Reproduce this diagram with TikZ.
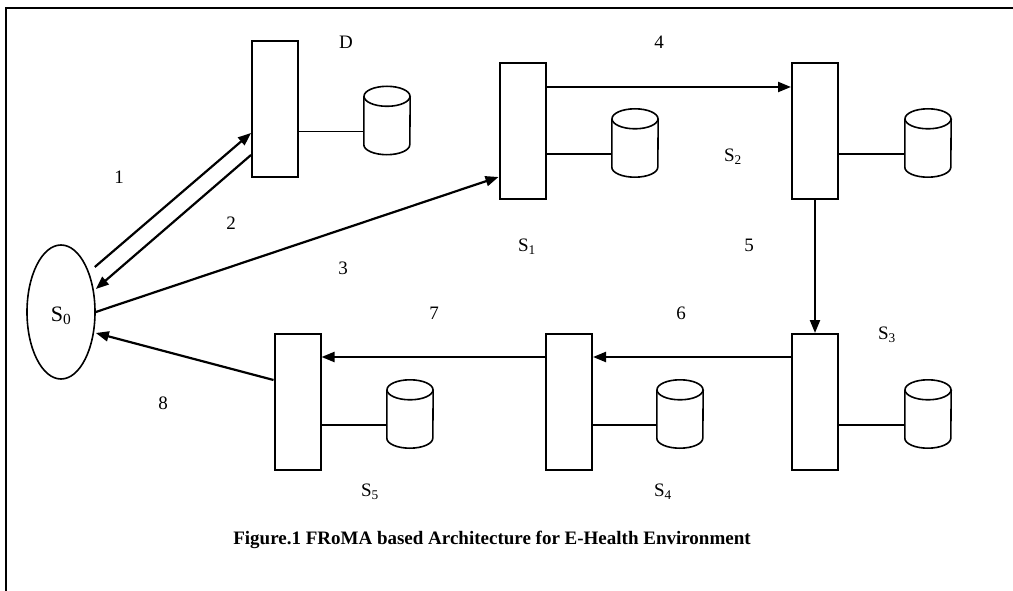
\documentclass[tikz,border=0pt]{standalone}
\usepackage{fontspec}
\setmainfont{Liberation Serif}
\usetikzlibrary{arrows.meta,shapes.geometric}
\tikzset{
  server/.style={draw, line width=2pt, minimum width=46pt, minimum height=136pt, inner sep=0pt},
  dbbox/.style={minimum width=46pt, minimum height=68pt, inner sep=0pt},
  dbline/.style={line width=1.6pt},
  link/.style={line width=1.7pt},
  flow/.style={line width=2.2pt, -{Triangle[length=13pt,width=10pt]}},
  lbl/.style={font=\fontsize{19}{22}\selectfont, inner sep=0pt},
  client/.style={draw, ellipse, line width=1.6pt, minimum width=68pt, minimum height=134pt, inner sep=0pt},
  frame/.style={line width=2pt},
}
\newcommand{\drawdb}[1]{%
  \draw[dbline] ([yshift=-10pt]#1.north west) -- ([yshift=10pt]#1.south west)
    arc[start angle=180, end angle=360, x radius=23pt, y radius=10pt]
    -- ([yshift=-10pt]#1.north east);
  \draw[dbline] ([yshift=-10pt]#1.north) ellipse[x radius=23pt, y radius=10pt];}
\begin{document}
\begin{tikzpicture}[x=1pt,y=-1pt]
\useasboundingbox (0,0) rectangle (1013,591);
% frame
\draw[frame] (1015,8) -- (6,8) -- (6,593);
% client
\node[client] (S0) at (61,312) {};
\node[lbl, font=\fontsize{22}{25}\selectfont] (lS0) at (61,316) {S\textsubscript{0}};
% servers
\node[server] (D)  at (275,109.5) {};
\node[server] (S1) at (522.5,131.5) {};
\node[server] (S2) at (815,131.5) {};
\node[server] (S3) at (815,402) {};
\node[server] (S4) at (569,402) {};
\node[server] (S5) at (297.5,402) {};
% databases
\node[dbbox] (cD)  at (387,120.5) {};
\node[dbbox] (c1)  at (635,143) {};
\node[dbbox] (c2)  at (928,143) {};
\node[dbbox] (c3)  at (928,414) {};
\node[dbbox] (c4)  at (680,414) {};
\node[dbbox] (c5)  at (410,414) {};
\foreach \c in {cD,c1,c2,c3,c4,c5} {\drawdb{\c}}
% server-database links
\foreach \s/\c in {D/cD,S1/c1,S2/c2,S3/c3,S4/c4,S5/c5}
  \draw[link] ([yshift=-11pt]\c.west) -- ([yshift=-11pt]\c.west -| \s.east);
% message flows
\draw[flow] ([xshift=-1pt,yshift=45pt]S0.east) -- ([yshift=-23.5pt]D.west);
\draw[flow] ([yshift=-45.5pt]D.west) -- ([yshift=23pt]S0.east);
\draw[flow] (S0.east) -- ([yshift=-45.5pt]S1.west);
\draw[flow] ([yshift=44.5pt]S1.east) -- ([yshift=44.5pt]S2.west);
\draw[flow] (S2.south) -- (S3.north);
\draw[flow] ([yshift=45pt]S3.west) -- ([yshift=45pt]S4.east);
\draw[flow] ([yshift=45pt]S4.west) -- ([yshift=45pt]S5.east);
\draw[flow] ([yshift=22pt]S5.west) -- ([yshift=-21pt]S0.east);
% labels
\node[lbl] (lD) at (346,42) {D};
\node[lbl] (l1) at (119,177) {1};
\node[lbl] (l2) at (231,223) {2};
\node[lbl] (l3) at (343,268) {3};
\node[lbl] (l4) at (659,42) {4};
\node[lbl] (l5) at (749,245) {5};
\node[lbl] (l6) at (681,313) {6};
\node[lbl] (l7) at (434,313) {7};
\node[lbl] (l8) at (163,403) {8};
\node[lbl] (lS1) at (527,247) {S\textsubscript{1}};
\node[lbl] (lS2) at (733,157) {S\textsubscript{2}};
\node[lbl] (lS3) at (887,335) {S\textsubscript{3}};
\node[lbl] (lS4) at (663,492) {S\textsubscript{4}};
\node[lbl] (lS5) at (370,492) {S\textsubscript{5}};
% caption
\node[inner sep=0pt, font=\fontsize{19}{22}\selectfont\bfseries] (cap) at (492,540)
  {Figure.1 FRoMA based Architecture for E-Health Environment};
\end{tikzpicture}
\end{document}
